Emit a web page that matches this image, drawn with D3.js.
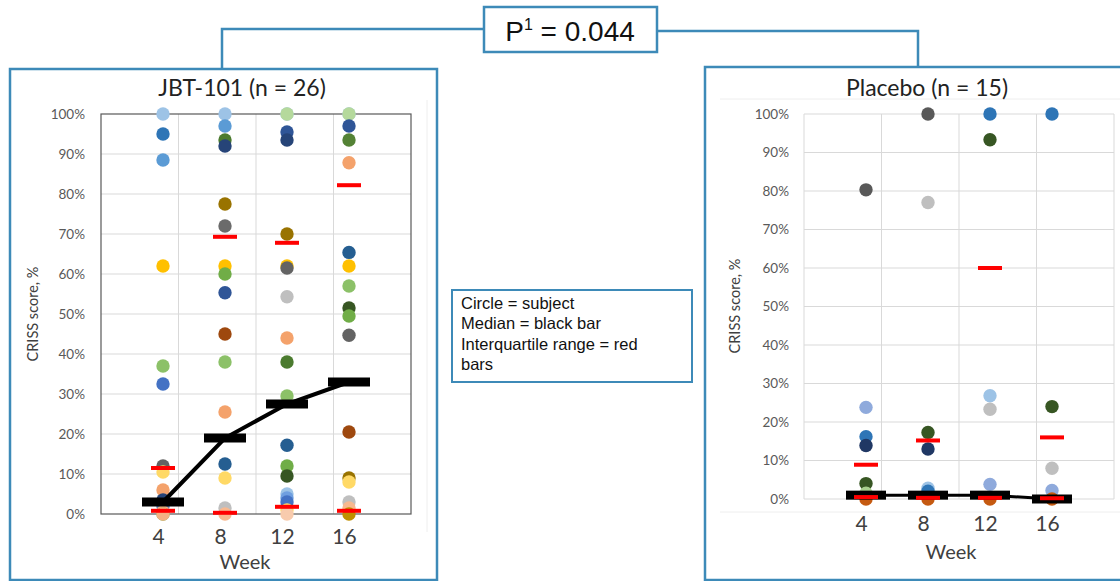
<!DOCTYPE html>
<html>
<head>
<meta charset="utf-8">
<script src="https://cdn.jsdelivr.net/npm/d3@7"></script>
<style>
  html, body { margin: 0; padding: 0; background: #ffffff; }
  svg { display: block; }
</style>
</head>
<body>
<svg id="chart" width="1120" height="581"></svg>
<script>
// Study weeks shown on the x axis
const weeks = [4, 8, 12, 16];
const yTicks = [0, 10, 20, 30, 40, 50, 60, 70, 80, 90, 100];

// JBT-101 arm: individual CRISS scores (%) per week
const jbtScores = [
  [100, 95, 88.5, 62, 37, 32.5, 12, 10.5, 6, 3.5, 2, 0.5, 0, 0],
  [100, 97, 93.5, 92, 77.5, 72, 62, 60, 55.3, 45, 38, 25.5, 12.5, 9, 1.5, 0],
  [100, 100, 95.5, 93.5, 70, 62, 61.5, 54.3, 44, 38, 29.5, 17.2, 12, 9.5, 5, 4, 3, 1, 0],
  [100, 100, 97, 93.5, 87.8, 65.4, 62, 57, 51.5, 49.5, 44.7, 20.5, 9, 8, 3, 1.5, 0]
];
const jbtDotColors = [
  ["#9dc3e6", "#2e75b6", "#5b9bd5", "#ffc000", "#8cc168", "#4472c4", "#636363", "#ffd966", "#f4a26b", "#264478", "#4f81bd", "#f4b183", "#70ad47", "#f4b183"],
  ["#9dc3e6", "#5b9bd5", "#4b7b2f", "#264478", "#997300", "#6b6b6b", "#ffc000", "#70ad47", "#2f5597", "#9e480e", "#8cc168", "#f4a26b", "#255e91", "#ffd966", "#bfbfbf", "#f8b88f"],
  ["#9dc3e6", "#b5d99c", "#2f5597", "#264478", "#997300", "#ffc000", "#636363", "#bfbfbf", "#f4a26b", "#4b7b2f", "#8cc168", "#255e91", "#70ad47", "#375623", "#9dc3e6", "#6f9fe0", "#4472c4", "#ffd966", "#f8cbad"],
  ["#9dc3e6", "#b5d99c", "#2f5597", "#548235", "#f4a26b", "#255e91", "#ffc000", "#8cc168", "#375623", "#70ad47", "#636363", "#9e480e", "#997300", "#ffd966", "#bfbfbf", "#f8b88f", "#bf9000"]
];
const jbtMedian = [3, 19, 27.5, 33];
const jbtQ1 = [0.8, 0.3, 1.8, 0.8];
const jbtQ3 = [11.5, 69.3, 67.8, 82.2];

// Placebo arm: individual CRISS scores (%) per week
const placeboScores = [
  [80.3, 23.8, 16.2, 13.9, 4, 1.5, 0],
  [100, 77, 17.3, 13, 2.8, 2, 0],
  [100, 93.3, 26.8, 23.3, 3.8, 0],
  [100, 24, 8, 2.2, 0]
];
const placeboDotColors = [
  ["#595959", "#8faadc", "#2e75b6", "#203864", "#375623", "#a9d18e", "#c55a11"],
  ["#595959", "#bfbfbf", "#375623", "#203864", "#9dc3e6", "#2e75b6", "#c55a11"],
  ["#2e75b6", "#375623", "#9dc3e6", "#bfbfbf", "#8faadc", "#c55a11"],
  ["#2e75b6", "#375623", "#bfbfbf", "#8faadc", "#c55a11"]
];
const placeboMedian = [1, 1, 1, 0];
const placeboQ1 = [0.5, 0.3, 0.3, 0.2];
const placeboQ3 = [8.9, 15.2, 60, 16];

const frameBlue = "#3d8ab8";
const chartFont = "Lato, 'Open Sans', sans-serif";
const boxFont = "'Liberation Sans', Arial, sans-serif";

const svg = d3.select("#chart");

// ---- connector lines and p-value box ----
const conn = svg.append("g").attr("fill", "none").attr("stroke", frameBlue).attr("stroke-width", 2.5);
conn.append("path").attr("d", "M222,69 V29 H484");
conn.append("path").attr("d", "M657,31 H918 V67");
conn.append("rect").attr("x", 484).attr("y", 7).attr("width", 173).attr("height", 45).attr("fill", "#fff");
const pText = svg.append("text").attr("x", 570).attr("y", 41).attr("text-anchor", "middle")
  .attr("font-family", boxFont).attr("font-size", 28).attr("fill", "#111");
pText.append("tspan").text("P");
pText.append("tspan").attr("font-size", 16).attr("dy", -11).text("1");
pText.append("tspan").attr("dy", 11).text(" = 0.044");

// ---- legend note box ----
svg.append("rect").attr("x", 452).attr("y", 290).attr("width", 240).attr("height", 92)
  .attr("fill", "#fff").attr("stroke", frameBlue).attr("stroke-width", 2);
const noteLines = ["Circle = subject", "Median = black bar", "Interquartile range = red", "bars"];
svg.append("g").selectAll("text").data(noteLines).join("text")
  .attr("x", 461).attr("y", (d, i) => 309 + i * 20.3)
  .attr("font-family", boxFont).attr("font-size", 16.5).attr("fill", "#111")
  .text(d => d);

// ---- panel drawing ----
function drawPanel(cfg) {
  const g = svg.append("g");
  // outer frame
  g.append("rect").attr("x", cfg.frame[0]).attr("y", cfg.frame[1])
    .attr("width", cfg.frame[2]).attr("height", cfg.frame[3])
    .attr("fill", "#fff").attr("stroke", frameBlue).attr("stroke-width", 2.5);

  const x = d3.scaleLinear().domain([0, 20]).range([cfg.plot.left, cfg.plot.right]);
  const y = d3.scaleLinear().domain([0, 100]).range([cfg.plot.bottom, cfg.plot.top]);

  // faint chart-area outline
  cfg.areaLines.forEach(l => {
    g.append("line").attr("x1", l[0]).attr("y1", l[1]).attr("x2", l[2]).attr("y2", l[3])
      .attr("stroke", "#eeeeee").attr("stroke-width", 1);
  });

  // gridlines
  g.append("g").selectAll("line").data(yTicks.filter(t => t > 0 && (cfg.border ? t < 100 : true))).join("line")
    .attr("x1", cfg.plot.left).attr("x2", cfg.plot.right)
    .attr("y1", d => y(d)).attr("y2", d => y(d))
    .attr("stroke", "#d9d9d9").attr("stroke-width", 1);
  g.append("g").selectAll("line").data(cfg.border ? [5, 10, 15] : [0, 5, 10, 15, 20]).join("line")
    .attr("x1", d => x(d)).attr("x2", d => x(d))
    .attr("y1", cfg.plot.top).attr("y2", cfg.plot.bottom)
    .attr("stroke", "#d9d9d9").attr("stroke-width", 1);
  if (cfg.border) {
    g.append("rect").attr("x", cfg.plot.left).attr("y", cfg.plot.top)
      .attr("width", cfg.plot.right - cfg.plot.left).attr("height", cfg.plot.bottom - cfg.plot.top)
      .attr("fill", "none").attr("stroke", "#595959").attr("stroke-width", 1.2);
  } else {
    g.append("line").attr("x1", cfg.plot.left).attr("x2", cfg.plot.right)
      .attr("y1", y(0)).attr("y2", y(0)).attr("stroke", "#d9d9d9").attr("stroke-width", 1.2);
  }

  // y axis tick labels
  const yAxis = d3.axisLeft(y).tickValues(yTicks).tickFormat(d => d + "%").tickSize(0).tickPadding(0);
  const ya = g.append("g").attr("transform", `translate(${cfg.yLabelX},0)`).call(yAxis);
  ya.select(".domain").remove();
  ya.selectAll("text").attr("font-family", chartFont).attr("font-size", 13.5).attr("fill", "#595959");

  // x axis tick labels (week numbers)
  const xAxis = d3.axisBottom(x).tickValues(weeks).tickSize(0).tickPadding(0);
  const xa = g.append("g").attr("transform", `translate(-5,${cfg.xLabelY})`).call(xAxis);
  xa.select(".domain").remove();
  xa.selectAll("text").attr("font-family", chartFont).attr("font-size", 21).attr("fill", "#404040")
    .attr("dy", "0");

  // axis titles
  g.append("text").attr("x", cfg.weekX).attr("y", cfg.weekY).attr("text-anchor", "middle")
    .attr("font-family", chartFont).attr("font-size", 20).attr("fill", "#404040").text("Week");
  g.append("text").attr("transform", `translate(${cfg.yTitleX},${cfg.yTitleY}) rotate(-90)`)
    .attr("text-anchor", "middle").attr("font-family", chartFont).attr("font-size", 14.5)
    .attr("fill", "#404040").text("CRISS score, %");

  // panel title
  g.append("text").attr("x", cfg.titleX).attr("y", cfg.titleY).attr("text-anchor", "middle")
    .attr("font-family", chartFont).attr("font-size", 23).attr("fill", "#222").text(cfg.title);

  // subject dots
  const dots = [];
  cfg.scores.forEach((arr, wi) => arr.forEach((v, k) => dots.push({ w: weeks[wi], v, c: cfg.colors[wi][k] })));
  g.append("g").selectAll("circle").data(dots).join("circle")
    .attr("cx", d => x(d.w)).attr("cy", d => y(d.v)).attr("r", cfg.dotR)
    .attr("fill", d => d.c);

  // median line and bars
  const med = weeks.map((w, i) => ({ w, v: cfg.median[i] }));
  g.append("path").datum(med)
    .attr("d", d3.line().x(d => x(d.w)).y(d => y(d.v)))
    .attr("fill", "none").attr("stroke", "#000").attr("stroke-width", cfg.lineW);
  g.append("g").selectAll("rect").data(med).join("rect")
    .attr("x", d => x(d.w) - cfg.medW / 2).attr("y", d => y(d.v) - cfg.medH / 2)
    .attr("width", cfg.medW).attr("height", cfg.medH).attr("fill", "#000");

  // interquartile bars
  const iq = [];
  weeks.forEach((w, i) => { iq.push({ w, v: cfg.q1[i] }); iq.push({ w, v: cfg.q3[i] }); });
  g.append("g").selectAll("rect").data(iq).join("rect")
    .attr("x", d => x(d.w) - 12).attr("y", d => y(d.v) - 2)
    .attr("width", 24).attr("height", 4).attr("fill", "#ff0000");
}

drawPanel({
  title: "JBT-101 (n = 26)",
  frame: [10, 69, 427, 511],
  plot: { left: 101, right: 411, top: 114, bottom: 514 },
  areaLines: [[427, 100, 427, 532]],
  border: true,
  yLabelX: 85, xLabelY: 544, weekX: 245, weekY: 569,
  yTitleX: 38, yTitleY: 314,
  titleX: 242, titleY: 96,
  scores: jbtScores, colors: jbtDotColors,
  median: jbtMedian, q1: jbtQ1, q3: jbtQ3,
  dotR: 6.7, medW: 42, medH: 9, lineW: 4
});

drawPanel({
  title: "Placebo (n = 15)",
  frame: [705, 67, 430, 513],
  plot: { left: 804, right: 1114, top: 114, bottom: 499 },
  areaLines: [[720, 99, 1120, 99], [720, 512, 1120, 512]],
  border: false,
  yLabelX: 789, xLabelY: 531, weekX: 951, weekY: 559,
  yTitleX: 740, yTitleY: 306,
  titleX: 927, titleY: 96,
  scores: placeboScores, colors: placeboDotColors,
  median: placeboMedian, q1: placeboQ1, q3: placeboQ3,
  dotR: 6.7, medW: 40, medH: 9, lineW: 3
});
</script>
</body>
</html>
